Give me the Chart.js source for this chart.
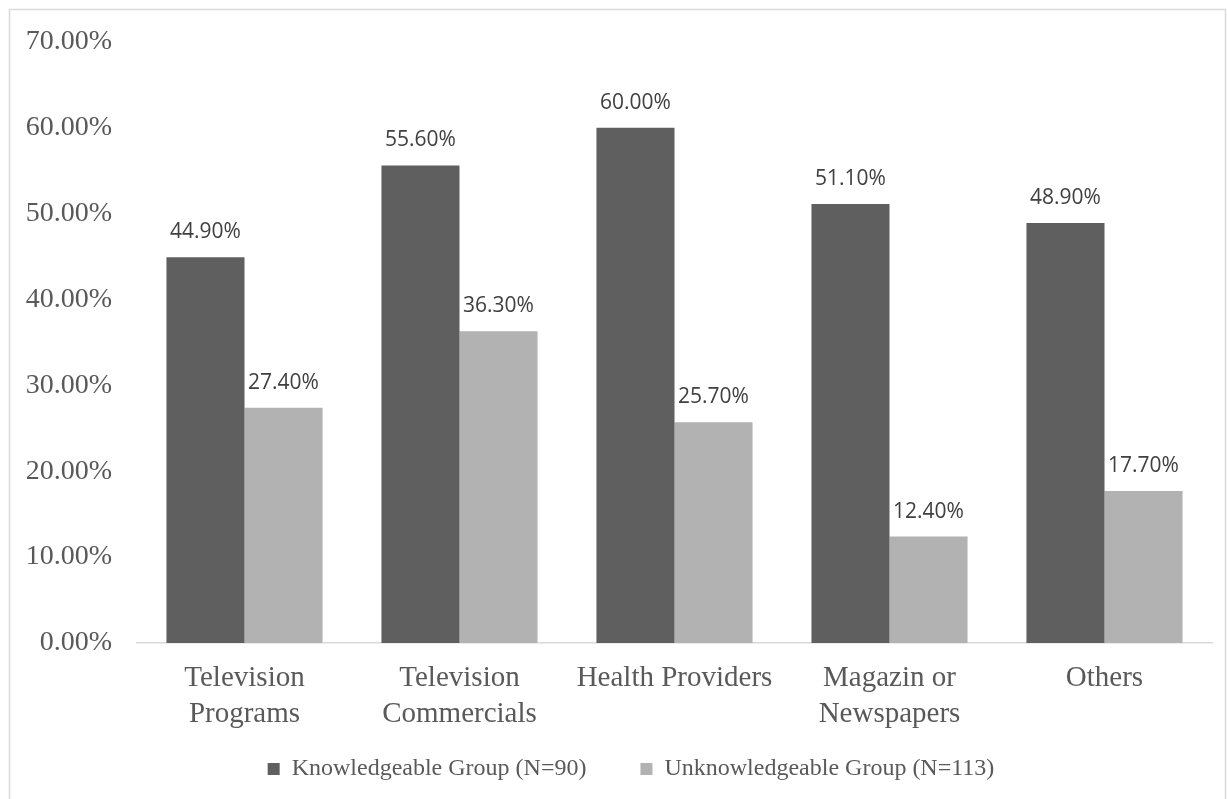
<!DOCTYPE html>
<html>
<head>
<meta charset="utf-8">
<script src="https://cdn.jsdelivr.net/npm/chart.js@4/dist/chart.umd.min.js"></script>
<style>
  html, body { margin: 0; padding: 0; background: #ffffff; }
  #wrap { position: relative; width: 1227px; height: 799px; }
</style>
</head>
<body>
<div id="wrap"><canvas id="chart" width="1227" height="799"></canvas></div>
<script>
// Sources of information, share of respondents per group (%)
const categories = [
  ['Television', 'Programs'],
  ['Television', 'Commercials'],
  'Health Providers',
  ['Magazin or', 'Newspapers'],
  'Others'
];
const knowledgeable = [44.9, 55.6, 60.0, 51.1, 48.9];
const unknowledgeable = [27.4, 36.3, 25.7, 12.4, 17.7];
const seriesNames = ['Knowledgeable Group (N=90)', 'Unknowledgeable Group (N=113)'];
const yTicks = [0, 10, 20, 30, 40, 50, 60, 70];

const pct = v => Number(v).toFixed(2) + '%';
const serif = '"Liberation Serif", "Times New Roman", serif';

// White page with a thin grey frame around the chart
const framePlugin = {
  id: 'frame',
  beforeDraw(chart) {
    const ctx = chart.ctx;
    ctx.save();
    ctx.fillStyle = '#ffffff';
    ctx.fillRect(0, 0, chart.width, chart.height);
    ctx.strokeStyle = '#d9d9d9';
    ctx.lineWidth = 1.5;
    ctx.strokeRect(9.5, 9.5, 1216, 800);
    ctx.restore();
  }
};

// Legend row sits a little lower and to the right of its default slot
const legendPlacement = {
  id: 'legendPlacement',
  afterLayout(chart) {
    const lg = chart.legend;
    if (!lg) return;
    lg.top = 703;
    lg.height = 96;
    lg.bottom = lg.top + lg.height;
    lg.left += 25;
    lg.right += 25;
  }
};

// Value labels above every bar
const valueLabels = {
  id: 'valueLabels',
  afterDatasetsDraw(chart) {
    const ctx = chart.ctx;
    ctx.save();
    ctx.font = '21px "Open Sans", "Liberation Sans", sans-serif';
    ctx.fillStyle = '#404040';
    ctx.textAlign = 'center';
    ctx.textBaseline = 'alphabetic';
    chart.data.datasets.forEach((ds, di) => {
      chart.getDatasetMeta(di).data.forEach((bar, i) => {
        ctx.fillText(pct(ds.data[i]), bar.x, bar.y - 19);
      });
    });
    ctx.restore();
  }
};

new Chart(document.getElementById('chart'), {
  type: 'bar',
  data: {
    labels: categories,
    datasets: [
      { label: seriesNames[0], data: knowledgeable, backgroundColor: '#5f5f5f', borderWidth: 0 },
      { label: seriesNames[1], data: unknowledgeable, backgroundColor: '#b2b2b2', borderWidth: 0 }
    ]
  },
  options: {
    responsive: false,
    animation: false,
    devicePixelRatio: 1,
    layout: { padding: { top: 41, left: 0, right: 15, bottom: 27 } },
    datasets: { bar: { barPercentage: 1.0, categoryPercentage: 0.726 } },
    plugins: {
      legend: {
        position: 'bottom',
        maxHeight: 40,
        labels: {
          color: '#595959',
          font: { family: serif, size: 24 },
          boxWidth: 12,
          boxHeight: 12,
          padding: 54
        }
      },
      tooltip: { enabled: false },
      title: { display: false }
    },
    scales: {
      x: {
        grid: { display: false, drawTicks: false },
        border: { display: true, color: '#d9d9d9', width: 1.5 },
        ticks: {
          color: '#595959',
          padding: 17,
          maxRotation: 0,
          autoSkip: false,
          font: { family: serif, size: 29, lineHeight: 1.24 }
        },
        afterFit(scale) { scale.height = 89; }
      },
      y: {
        min: 0,
        max: 70,
        afterBuildTicks(scale) { scale.ticks = yTicks.map(v => ({ value: v })); },
        grid: { display: false, drawTicks: false },
        border: { display: false },
        ticks: {
          color: '#595959',
          padding: 25,
          font: { family: serif, size: 28 },
          callback: v => pct(v)
        },
        afterFit(scale) { scale.width = 137; }
      }
    }
  },
  plugins: [framePlugin, legendPlacement, valueLabels]
});
</script>
</body>
</html>
